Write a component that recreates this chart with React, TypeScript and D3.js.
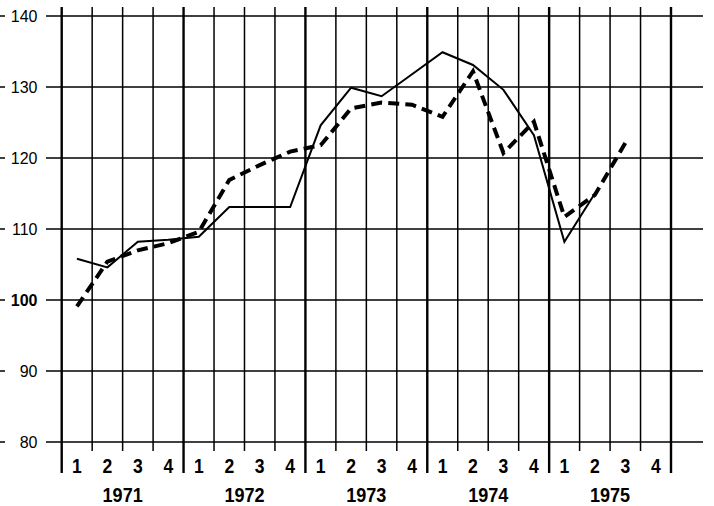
import React from "react";
import * as d3 from "d3";

// quarterly index, 1971 Q1 .. 1975 Q3
const years = ["1971", "1972", "1973", "1974", "1975"];
const quarters = ["1", "2", "3", "4"];
const yTicks = [80, 90, 100, 110, 120, 130, 140];

const solidSeries = [
  105.8, 104.6, 108.2, 108.5, 108.9, 113.1, 113.1, 113.1, 124.6, 129.9, 128.7,
  131.8, 134.9, 133.1, 129.6, 123.2, 108.2, 115.0,
];
const dashedSeries = [
  99.1, 105.4, 107.0, 108.0, 109.6, 116.9, 119.0, 120.9, 121.8, 127.0, 127.8,
  127.5, 125.8, 132.2, 120.7, 125.1, 111.7, 114.8, 122.1,
];

const W = 714;
const H = 506;
const FONT = "'Liberation Sans', Arial, Helvetica, sans-serif";
const DASH = 11;
const GAP = 6;

export default function App() {
  const nQ = years.length * quarters.length;
  const x = d3.scaleLinear().domain([0, nQ]).range([61.7, 671]);
  const y = d3.scaleLinear().domain([80, 140]).range([442, 16]);

  const line = d3
    .line<number>()
    .x((_, i) => x(i + 0.5))
    .y((d) => y(d));

  // stretch the gap a touch so the dashed line starts and ends on a full dash
  const pts = dashedSeries.map((d, i) => [x(i + 0.5), y(d)] as [number, number]);
  const dashLen = d3.sum(d3.pairs(pts), ([a, b]) => Math.hypot(b[0] - a[0], b[1] - a[1]));
  const nDash = Math.round((dashLen - DASH) / (DASH + GAP));
  const gap = (dashLen - DASH) / nDash - DASH;

  const gridLeft = 46;
  const gridRight = 703;
  const vTop = 7;

  const boundaries = d3.range(0, nQ + 1);

  return (
    <div style={{ position: "fixed", left: 0, top: 0, width: W, height: H, background: "white" }}>
      <svg width={W} height={H} style={{ display: "block" }} fontFamily={FONT}>
        <rect x={0} y={0} width={W} height={H} fill="white" />

        {/* horizontal grid + left ticks + labels */}
        {yTicks.map((t) => (
          <g key={t}>
            <line x1={gridLeft} x2={gridRight} y1={y(t)} y2={y(t)} stroke="#000" strokeWidth={1.5} />
            <line x1={0} x2={5} y1={y(t)} y2={y(t)} stroke="#000" strokeWidth={1.5} />
            <text
              x={37.5}
              y={y(t)}
              dy="0.36em"
              textAnchor="end"
              fontSize={16}
              fontWeight={t === 100 ? 700 : 400}
              fill="#000"
            >
              {t}
            </text>
          </g>
        ))}

        {/* vertical quarter / year lines */}
        {boundaries.map((b) => {
          const isYear = b % 4 === 0;
          return (
            <line
              key={b}
              x1={x(b)}
              x2={x(b)}
              y1={vTop}
              y2={isYear ? 473 : 451}
              stroke="#000"
              strokeWidth={isYear ? 2.4 : 1.5}
            />
          );
        })}

        {/* quarter labels */}
        {years.map((yr, yi) =>
          quarters.map((q, qi) => (
            <text
              key={`${yr}-${q}`}
              transform={`translate(${x(yi * 4 + qi + 0.5)},472.5) scale(0.9,1)`}
              textAnchor="middle"
              fontSize={19.5}
              fontWeight={700}
              fill="#000"
            >
              {q}
            </text>
          ))
        )}

        {/* year labels */}
        {years.map((yr, yi) => (
          <text
            key={yr}
            transform={`translate(${x(yi * 4 + 2)},501.5) scale(0.88,1)`}
            textAnchor="middle"
            fontSize={20.5}
            fontWeight={700}
            fill="#000"
          >
            {yr}
          </text>
        ))}

        {/* series */}
        <path d={line(solidSeries) ?? ""} fill="none" stroke="#000" strokeWidth={2} />
        <path
          d={line(dashedSeries) ?? ""}
          fill="none"
          stroke="#000"
          strokeWidth={4}
          strokeDasharray={`${DASH} ${gap}`}
        />
      </svg>
    </div>
  );
}
